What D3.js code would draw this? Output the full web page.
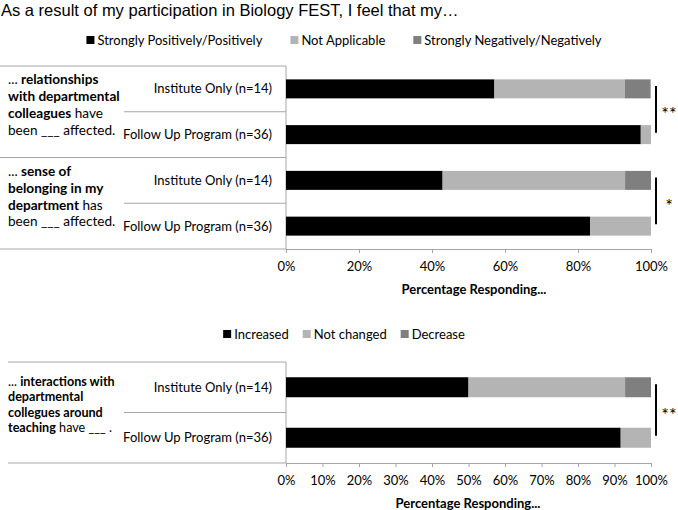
<!DOCTYPE html>
<html><head><meta charset="utf-8">
<script src="https://cdn.jsdelivr.net/npm/d3@7"></script>
<style>body{margin:0;background:#fff}svg{display:block}</style>
</head><body>
<svg id="chart" width="678" height="510"></svg>
<script>
// ---------- DATA ----------
const titleText = "As a result of my participation in Biology FEST, I feel that my…";
const axisTitle = "Percentage Responding...";

const topSeries = ["Strongly Positively/Positively", "Not Applicable", "Strongly Negatively/Negatively"];
const topCategories = ["Institute Only (n=14)", "Follow Up Program (n=36)", "Institute Only (n=14)", "Follow Up Program (n=36)"];
const topPositive = [57.1, 97.2, 42.9, 83.3];
const topNotApplicable = [35.7, 2.8, 50.0, 16.7];
const topNegative = [7.1, 0, 7.1, 0];
const topTicks = [0, 20, 40, 60, 80, 100];
const topSignificance = [{from: 0, to: 1, label: "**"}, {from: 2, to: 3, label: "*"}];
const topQuestions = [
  [[["... ", 0], ["relationships", 1]], [["with departmental", 1]], [["colleagues", 1], [" have", 0]], [["been ___ affected.", 0]]],
  [[["... ", 0], ["sense of", 1]], [["belonging in my", 1]], [["department", 1], [" has", 0]], [["been ___ affected.", 0]]]
];

const bottomSeries = ["Increased", "Not changed", "Decrease"];
const bottomCategories = ["Institute Only (n=14)", "Follow Up Program (n=36)"];
const bottomIncreased = [50.0, 91.7];
const bottomNotChanged = [42.9, 8.3];
const bottomDecrease = [7.1, 0];
const bottomTicks = [0, 10, 20, 30, 40, 50, 60, 70, 80, 90, 100];
const bottomSignificance = [{from: 0, to: 1, label: "**"}];
const bottomQuestions = [
  [[["... ", 0], ["interactions with", 1]], [["departmental", 1]], [["collegues around", 1]], [["teaching", 1], [" have ___ .", 0]]]
];

// ---------- STYLE ----------
const seriesColors = ["#000000", "#b4b4b4", "#7f7f7f"];
const lineColor = "#a6a6a6";
const FONT = "Lato, 'Open Sans', sans-serif";
const FS = 13;

const svg = d3.select("#chart");

svg.append("text")
  .attr("x", 1).attr("y", 15.5)
  .attr("font-family", "'Liberation Sans', Arial, sans-serif")
  .attr("font-size", 16.5).attr("fill", "#000")
  .text(titleText);

function drawLegend(series, cy, gap) {
  const g = svg.append("g");
  const items = series.map((s, i) => {
    const it = g.append("g");
    it.append("rect").attr("width", 8).attr("height", 8).attr("y", -4).attr("fill", seriesColors[i]);
    const t = it.append("text").attr("x", 11).attr("dy", "0.35em")
      .attr("font-family", FONT).attr("font-size", FS).attr("fill", "#000").text(s);
    return {it, w: 11 + t.node().getComputedTextLength()};
  });
  const total = d3.sum(items, d => d.w) + gap * (items.length - 1);
  let x = 344 - total / 2;
  items.forEach(d => { d.it.attr("transform", `translate(${x},${cy})`); x += d.w + gap; });
}

function drawPanel(cfg) {
  const x = d3.scaleLinear().domain([0, 100]).range([286, 651]);
  const idx = cfg.categories.map((c, i) => i);
  const y = d3.scaleBand().domain(idx).range([cfg.y0, cfg.y1])
    .paddingInner(cfg.pad).paddingOuter(cfg.pad / 2);
  const rows = idx.map(i => ({i, a: cfg.values[0][i], b: cfg.values[1][i], c: cfg.values[2][i]}));
  const stack = d3.stack().keys(["a", "b", "c"])(rows);

  const g = svg.append("g");
  // category separator lines
  d3.range(cfg.categories.length + 1).forEach(k => {
    const yy = cfg.y0 + k * y.step();
    const full = k % 2 === 0;
    g.append("line")
      .attr("x1", full ? cfg.lineStart : 124).attr("x2", x(0))
      .attr("y1", yy).attr("y2", yy)
      .attr("stroke", lineColor).attr("stroke-width", 1);
  });
  // vertical axis
  g.append("line").attr("x1", x(0)).attr("x2", x(0)).attr("y1", cfg.y0).attr("y2", cfg.y1)
    .attr("stroke", lineColor);

  // bars
  stack.forEach((layer, si) => {
    g.selectAll(null).data(layer).join("rect")
      .attr("x", d => x(d[0])).attr("width", d => x(d[1]) - x(d[0]))
      .attr("y", d => y(d.data.i)).attr("height", y.bandwidth())
      .attr("fill", seriesColors[si]);
  });

  // x axis
  const ax = g.append("g").attr("transform", `translate(0,${cfg.y1})`)
    .call(d3.axisBottom(x).tickValues(cfg.ticks).tickFormat(d => d + "%").tickSize(4).tickSizeOuter(0));
  ax.select(".domain").attr("stroke", lineColor);
  ax.selectAll(".tick line").attr("stroke", lineColor);
  ax.selectAll(".tick text").attr("y", 17.5).attr("dy", "0.35em")
    .attr("font-family", FONT).attr("font-size", FS).attr("fill", "#000");

  g.append("text").attr("x", cfg.titleX).attr("y", cfg.y1 + 40).attr("dy", "0.35em")
    .attr("text-anchor", "middle").attr("font-family", FONT).attr("font-weight", "bold")
    .attr("font-size", FS).attr("fill", "#000").text(axisTitle);

  // category labels
  g.selectAll(null).data(idx).join("text")
    .attr("x", 272).attr("y", i => y(i) + y.bandwidth() / 2).attr("dy", "0.35em")
    .attr("text-anchor", "end").attr("font-family", FONT).attr("font-size", FS).attr("fill", "#000")
    .text(i => cfg.categories[i]);

  // question labels
  cfg.questions.forEach((q, qi) => {
    const firstY = cfg.y0 + qi * 2 * y.step() + cfg.qOffset;
    q.forEach((line, li) => {
      const t = g.append("text").attr("x", 8).attr("y", firstY + li * cfg.qSpacing).attr("dy", "0.35em")
        .attr("font-family", FONT).attr("font-size", cfg.qSize).attr("fill", "#000");
      line.forEach(seg => {
        t.append("tspan").attr("font-weight", seg[1] ? "bold" : "normal").text(seg[0]);
      });
    });
  });

  // significance brackets
  cfg.significance.forEach(s => {
    const ya = y(s.from) + y.bandwidth() / 2 - 3;
    const yb = y(s.to) + y.bandwidth() / 2 - 2;
    g.append("line").attr("x1", 656).attr("x2", 656).attr("y1", ya).attr("y2", yb)
      .attr("stroke", "#000").attr("stroke-width", 2);
    g.append("text").attr("x", 669).attr("y", (ya + yb) / 2).attr("dy", "0.6em")
      .attr("text-anchor", "middle").attr("font-family", FONT).attr("font-size", 18)
      .attr("fill", "#000").text(s.label);
  });
}

drawLegend(topSeries, 40, 28);
drawPanel({
  categories: topCategories,
  values: [topPositive, topNotApplicable, topNegative],
  ticks: topTicks, significance: topSignificance, questions: topQuestions,
  y0: 66, y1: 249, pad: 0.585, lineStart: 0, titleX: 474,
  qOffset: 13.5, qSpacing: 16.9, qSize: 13.6
});

drawLegend(bottomSeries, 334, 14);
drawPanel({
  categories: bottomCategories,
  values: [bottomIncreased, bottomNotChanged, bottomDecrease],
  ticks: bottomTicks, significance: bottomSignificance, questions: bottomQuestions,
  y0: 362, y1: 463, pad: 0.604, lineStart: 8, titleX: 468,
  qOffset: 19.7, qSpacing: 15.2, qSize: 12.6
});
</script>
</body></html>
